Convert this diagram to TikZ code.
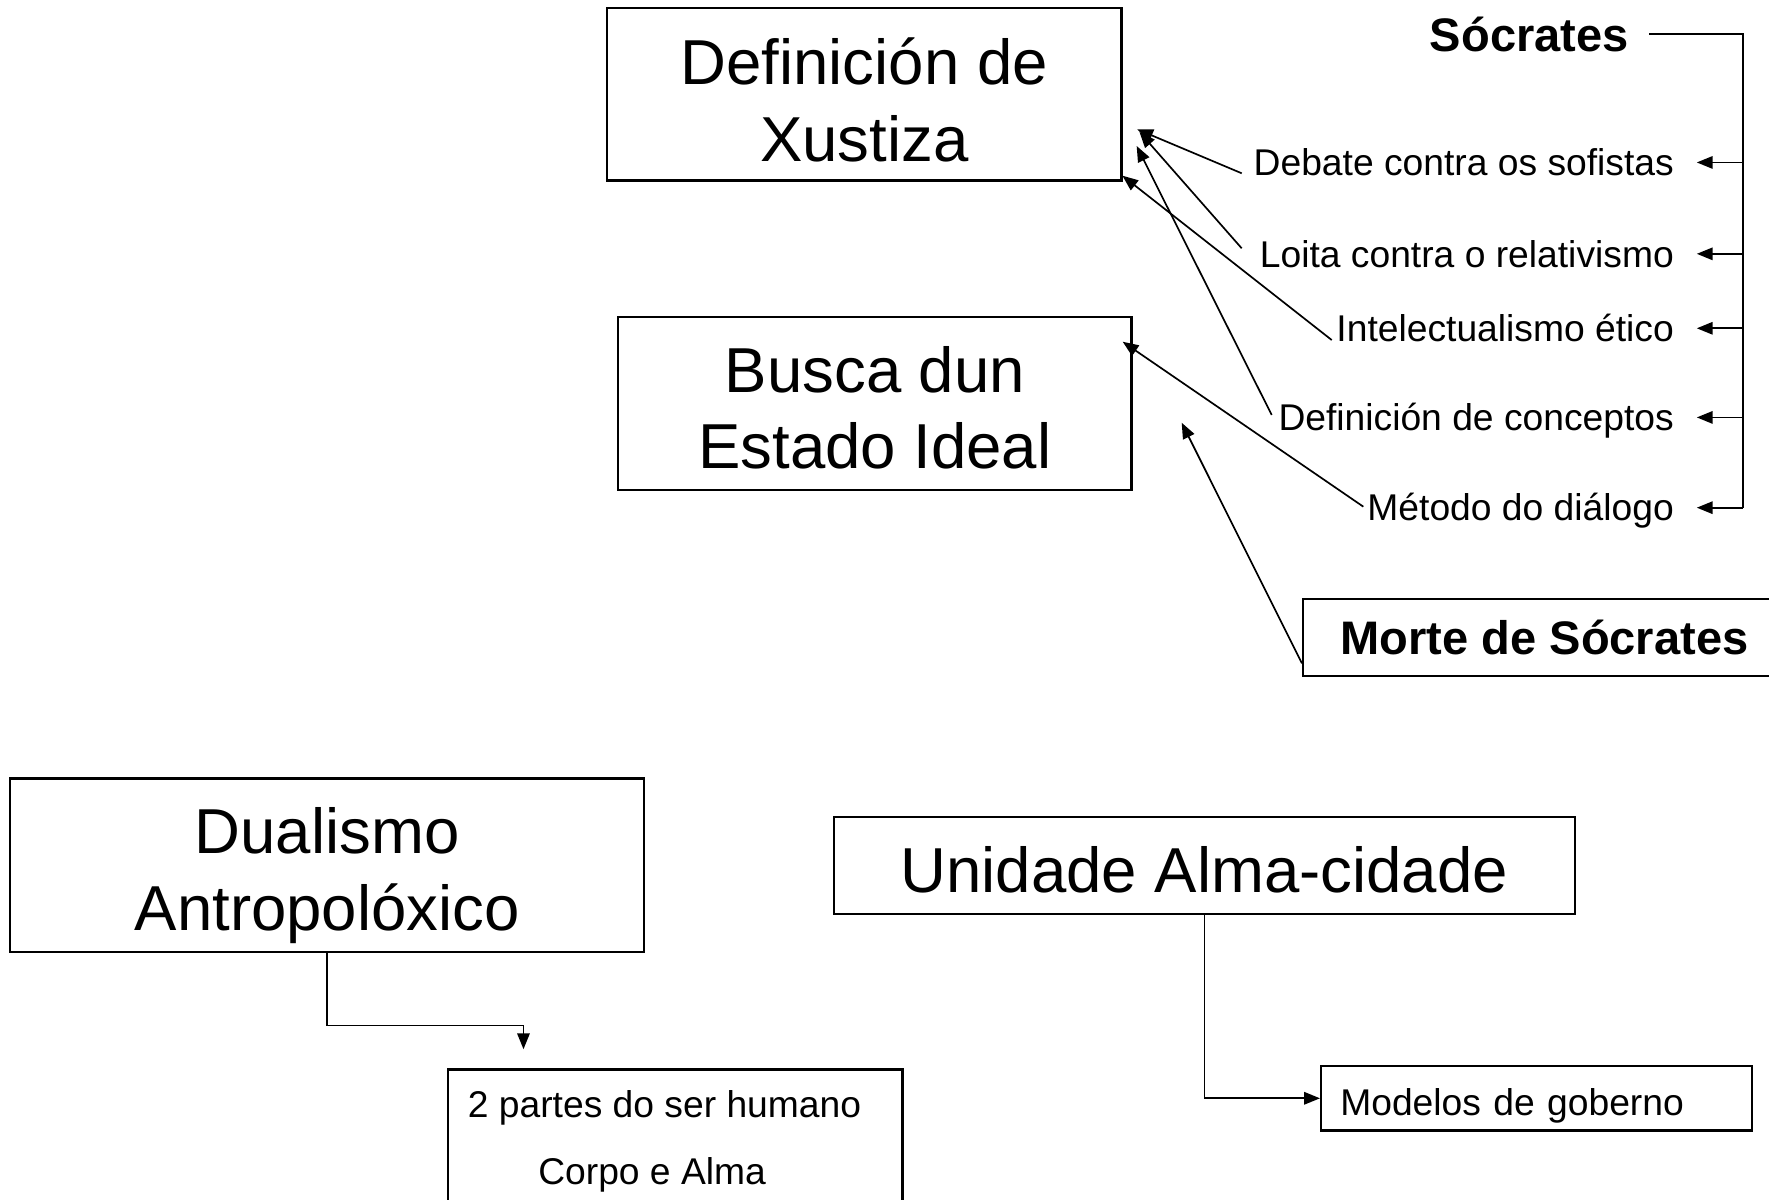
\documentclass[tikz,border=0pt]{standalone}
\usepackage{fontspec}
\setmainfont{Liberation Sans}
\usetikzlibrary{arrows.meta}
\begin{document}
\begin{tikzpicture}[x=0.5pt,y=-0.5pt,
  box/.style={draw, line width=1pt, inner sep=0pt, align=center},
  big/.style={font=\fontsize{28.15}{34}\selectfont, align=center, inner sep=0pt},
  small/.style={font=\fontsize{16.5}{20}\selectfont},
  boldf/.style={font=\fontsize{20.85}{25}\selectfont\bfseries},
  lbl/.style={small, inner ysep=0pt, inner xsep=10pt, anchor=east, text height=11.8pt, text depth=0pt},
  arr/.style={line width=0.75pt, -{Triangle[length=7pt,width=5.5pt]}},
  ln/.style={line width=0.75pt}]
\fill[white] (0,0) rectangle (1568,1063);
\useasboundingbox (0,0) rectangle (1568,1063);
\clip (0,0) rectangle (1568,1063);

% main boxes
\node[box,minimum width=228pt,minimum height=76.5pt] (def) at (766,83.5) {};
\node[big] (defT) at ([yshift=-2.5pt]def.center) {Definición de\\Xustiza};
\node[box,minimum width=227.5pt,minimum height=76.5pt] (bus) at (775.5,357.5) {};
\node[big] (busT) at ([yshift=-2pt]bus.center) {Busca dun\\Estado Ideal};
\node[box,minimum width=281pt,minimum height=77pt] (dua) at (290,767) {};
\node[big] (duaT) at ([yshift=-4.5pt]dua.center) {Dualismo\\Antropolóxico};
\node[box,font=\fontsize{28.15}{34}\selectfont,minimum width=328.5pt,minimum height=43pt,text height=24.3pt,text depth=0pt] (uni) at (1067.5,767) {Unidade Alma-cidade};
\node[box,small,minimum height=28.5pt,text width=174pt,inner xsep=8.5pt,align=left,text height=15pt,text depth=0pt] (mod) at (1362,973.5) {Modelos de goberno};
\node[box,boldf,minimum width=214pt,minimum height=34pt,text depth=0pt] (mor) at (1369,565) {Morte de Sócrates};
\node[box,minimum width=201.5pt,minimum height=76pt] (par) at (598.5,1024) {};
\node[small,inner sep=0pt,text depth=0pt] (parA) at (589,979) {2 partes do ser humano};
\node[small,inner sep=0pt,text depth=0pt] (parB) at (578,1038) {Corpo e Alma};

% Socrates bracket
\node[boldf,inner sep=0pt,text depth=0pt] (soc) at (1355.5,30) {Sócrates};
\coordinate (bt) at (1544.7,30);
\coordinate (bb) at (1544.7,450);
\draw[ln] ([xshift=9pt]soc.east) -- (bt) -- (bb);

\node[lbl] (l1) at (1504,144) {Debate contra os sofistas};
\node[lbl] (l2) at (1504,225) {Loita contra o relativismo};
\node[lbl] (l3) at (1504,291) {Intelectualismo ético};
\node[lbl] (l4) at (1504,370) {Definición de conceptos};
\node[lbl] (l5) at (1504,450) {Método do diálogo};

\coordinate (b1) at (1544.7,144);
\coordinate (b2) at (1544.7,225);
\coordinate (b3) at (1544.7,291);
\coordinate (b4) at (1544.7,370);
\draw[arr] (b1) -- (l1.east);
\draw[arr] (b2) -- (l2.east);
\draw[arr] (b3) -- (l3.east);
\draw[arr] (b4) -- (l4.east);
\draw[arr] (bb) -- (l5.east);

% slanted connectors
\coordinate (s1) at (1100.6,153.6);
\coordinate (s2) at (1100.6,220.1);
\coordinate (s3) at (1180.4,301.4);
\coordinate (s4) at (1127.2,367.8);
\coordinate (s5) at (1208.4,449.1);
\coordinate (t1) at (1008,114.6);
\coordinate (t2) at (1010,117);
\coordinate (t3) at (994.8,155.7);
\coordinate (t4) at (1007.5,129.4);
\coordinate (t5) at (995.1,302.9);
\coordinate (t6) at (1047.4,374.7);
\draw[arr] (s1) -- (t1);
\draw[arr] (s2) -- (t2);
\draw[arr] (s3) -- (t3);
\draw[arr] (s4) -- (t4);
\draw[arr] (s5) -- (t5);
\draw[arr] ([yshift=6pt]mor.south west) -- (t6);

% lower connectors
\coordinate (dk) at (464,909);
\coordinate (dtip) at (464,930);
\draw[arr] (dua.south) |- (dk) -- (dtip);
\draw[arr] (uni.south) |- (mod.west);
\end{tikzpicture}
\end{document}
